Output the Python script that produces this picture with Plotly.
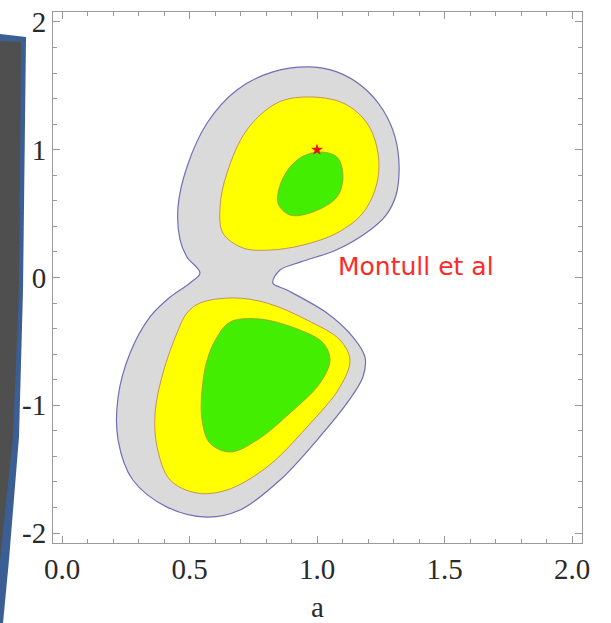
import plotly.graph_objects as go

# Confidence regions in the (a, b) plane, traced as closed boundaries.
outer_x = [0.973, 1.078, 1.180, 1.259, 1.306, 1.322, 1.310, 1.271, 1.192, 1.075, 0.937, 0.855, 0.827,
           0.882, 1.039, 1.141, 1.188, 1.180, 1.118, 1.000, 0.855, 0.698, 0.569, 0.412, 0.278,
           0.220, 0.220, 0.267, 0.345, 0.424, 0.502, 0.541, 0.490, 0.463, 0.455, 0.490, 0.569,
           0.686, 0.827]
outer_y = [1.648, 1.609, 1.491, 1.311, 1.100, 0.865, 0.646, 0.489, 0.348, 0.215, 0.122, 0.059, -0.043,
           -0.098, -0.278, -0.466, -0.622, -0.779, -0.982, -1.272, -1.585, -1.820, -1.875, -1.797, -1.585,
           -1.272, -0.935, -0.591, -0.309, -0.153, -0.043, 0.035, 0.161, 0.294, 0.552, 0.865, 1.209,
           1.468, 1.609]

upper_2s_x = [0.961, 1.102, 1.196, 1.239, 1.235, 1.180, 1.078, 0.945, 0.816, 0.710, 0.631, 0.620,
              0.647, 0.725, 0.843]
upper_2s_y = [1.413, 1.366, 1.209, 0.975, 0.740, 0.505, 0.348, 0.254, 0.215, 0.231, 0.348, 0.552,
              0.818, 1.155, 1.366]

upper_1s_x = [1.004, 1.078, 1.102, 1.078, 0.984, 0.894, 0.847, 0.863, 0.922]
upper_1s_y = [0.982, 0.943, 0.787, 0.630, 0.513, 0.489, 0.583, 0.763, 0.920]

lower_2s_x = [0.541, 0.671, 0.804, 0.961, 1.090, 1.129, 1.090, 0.961, 0.804, 0.647, 0.529, 0.424,
              0.373, 0.365, 0.396, 0.451, 0.490]
lower_2s_y = [-0.200, -0.160, -0.200, -0.333, -0.489, -0.646, -0.857, -1.170, -1.483, -1.663, -1.687, -1.585,
              -1.327, -1.061, -0.748, -0.434, -0.278]

lower_1s_x = [0.659, 0.776, 0.933, 1.024, 1.051, 1.012, 0.894, 0.765, 0.659, 0.580, 0.549, 0.549,
              0.569, 0.608]
lower_1s_y = [-0.348, -0.325, -0.411, -0.513, -0.646, -0.826, -1.061, -1.272, -1.366, -1.296, -1.115, -0.881,
              -0.646, -0.466]

best_fit = (1.0, 1.0)
label_text = "Montull et al"
x_ticks = [0.0, 0.5, 1.0, 1.5, 2.0]
x_tick_text = ["0.0", "0.5", "1.0", "1.5", "2.0"]
y_ticks = [-2, -1, 0, 1, 2]
y_tick_text = ["-2", "-1", "0", "1", "2"]

GRAY = "#dadada"
YELLOW = "#ffff00"
GREEN = "#44ee00"


def closed(xs, ys):
    return list(xs) + [xs[0]], list(ys) + [ys[0]]


def region(xs, ys, fill, line_color, width):
    cx, cy = closed(xs, ys)
    return go.Scatter(
        x=cx, y=cy, mode="lines", fill="toself", fillcolor=fill,
        line=dict(color=line_color, width=width, shape="spline", smoothing=1.0),
        hoverinfo="skip", showlegend=False,
    )


fig = go.Figure()
fig.add_trace(region(outer_x, outer_y, GRAY, "#6f6fb8", 1.2))
fig.add_trace(region(upper_2s_x, upper_2s_y, YELLOW, "#c08858", 0.9))
fig.add_trace(region(lower_2s_x, lower_2s_y, YELLOW, "#c08858", 0.9))
fig.add_trace(region(upper_1s_x, upper_1s_y, GREEN, "#9a9a40", 0.8))
fig.add_trace(region(lower_1s_x, lower_1s_y, GREEN, "#9a9a40", 0.8))
fig.add_trace(go.Scatter(
    x=[best_fit[0]], y=[best_fit[1]], mode="markers",
    marker=dict(symbol="star", size=9, color="#ee1010"),
    hoverinfo="skip", showlegend=False,
))

fig.add_annotation(
    x=1.075, y=-0.045, xref="x", yref="y", text=label_text, showarrow=False,
    xanchor="left", yanchor="bottom",
    font=dict(family="DejaVu Sans", size=25, color="#ff2a2a"),
)

# plot frame in pixels: x 53..582, y 12..543
W, H = 611, 623
L, R, T, B = 53, 29, 12, 80
pw, ph = W - L - R, H - T - B


def px(xp):
    return (xp - L) / pw


def py(yp):
    return (H - B - yp) / ph


def path(points):
    return "M " + " L ".join(f"{px(a):.4f},{py(b):.4f}" for a, b in points) + " Z"


# slide panel at the left edge
blue_pts = [(0, 34), (26, 37), (23, 290), (19, 437), (9, 560), (3, 623), (0, 623)]
dark_pts = [(0, 41), (21, 42), (19, 290), (13, 437), (0, 560)]
fig.add_shape(type="path", path=path(blue_pts), xref="paper", yref="paper",
              fillcolor="#3b5f95", line=dict(width=0), layer="above")
fig.add_shape(type="path", path=path(dark_pts), xref="paper", yref="paper",
              fillcolor="#4f4f4f", line=dict(width=0), layer="above")

tick_font = dict(family="Liberation Serif", size=29, color="#2a2a2a")
axis_common = dict(
    showgrid=False, zeroline=False, showline=True, linecolor="#9a9a9a", linewidth=1,
    mirror="allticks", ticks="inside", ticklen=7, tickcolor="#9a9a9a", tickwidth=1,
    tickfont=tick_font,
)

fig.update_xaxes(
    range=[-0.0353, 2.0392], tickvals=x_ticks, ticktext=x_tick_text,
    minor=dict(dtick=0.1, ticks="inside", ticklen=4, tickcolor="#9a9a9a"),
    title=dict(text="a", font=tick_font, standoff=14),
    **axis_common,
)
fig.update_yaxes(
    range=[-2.078, 2.078], tickvals=y_ticks, ticktext=y_tick_text,
    minor=dict(dtick=0.2, ticks="inside", ticklen=4, tickcolor="#9a9a9a"),
    **axis_common,
)

fig.update_layout(
    width=W, height=H,
    margin=dict(l=L, r=R, t=T, b=B, autoexpand=False),
    plot_bgcolor="white", paper_bgcolor="white",
    showlegend=False,
)

fig.write_html("out.html")
